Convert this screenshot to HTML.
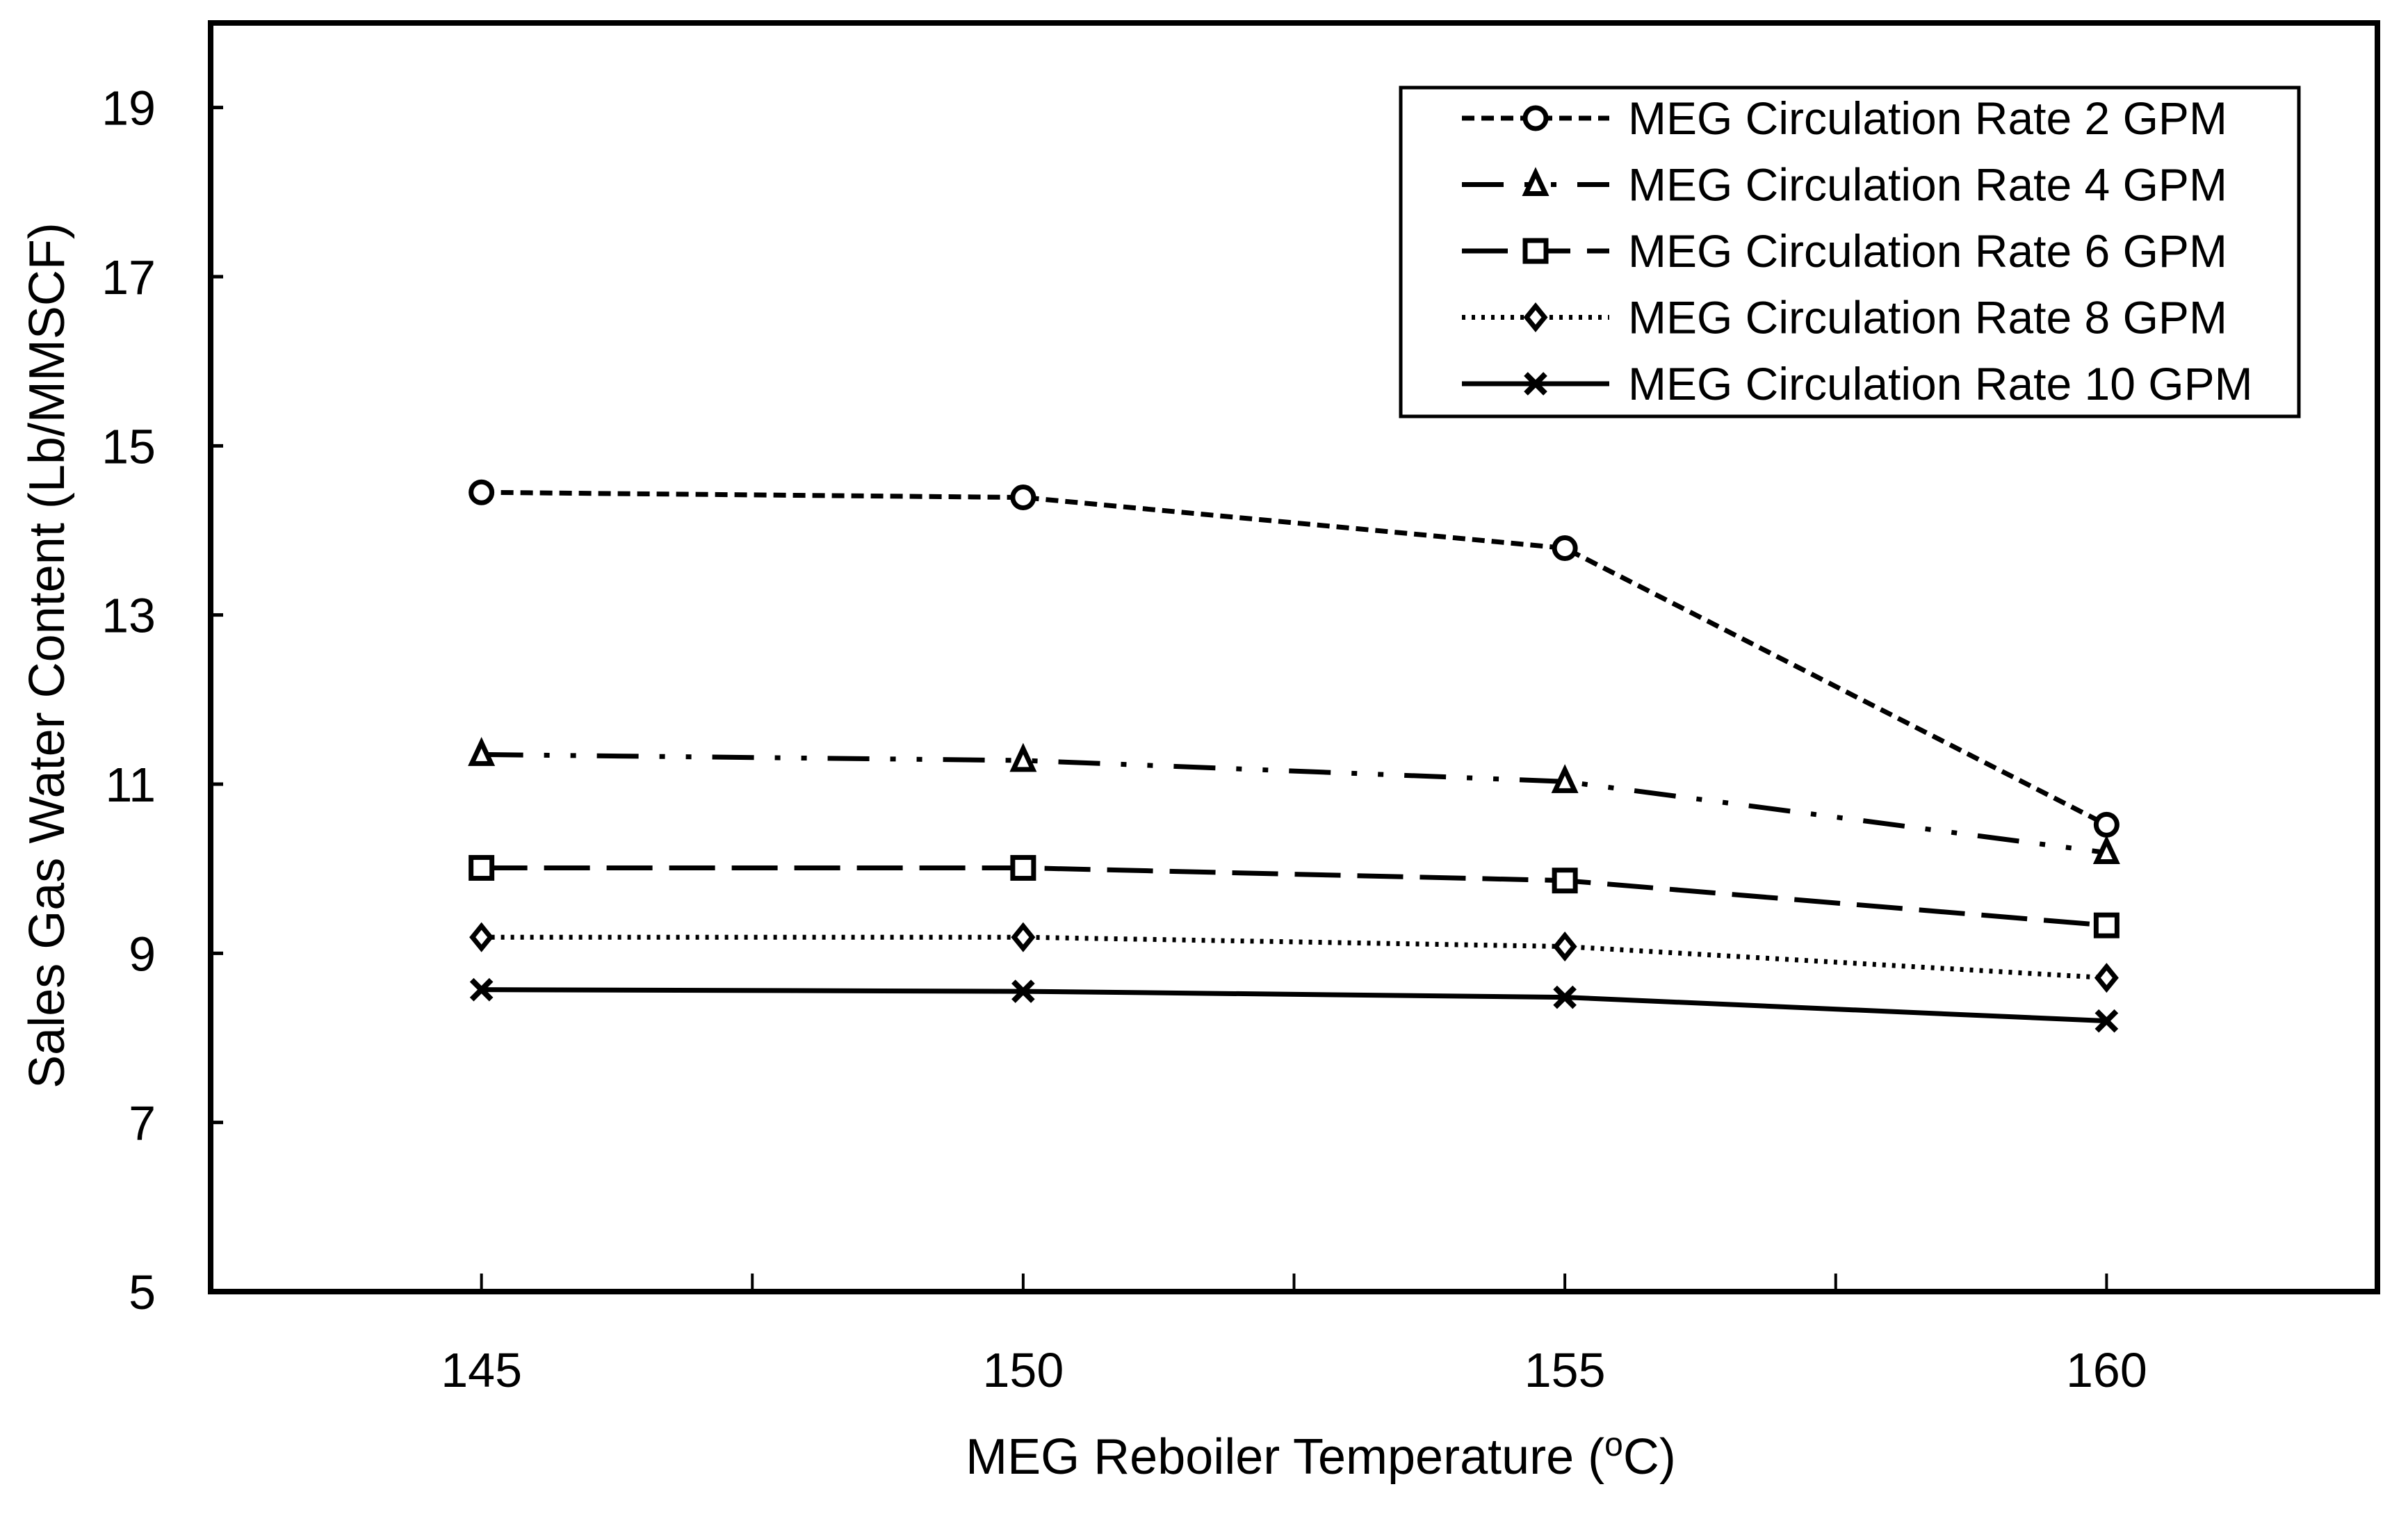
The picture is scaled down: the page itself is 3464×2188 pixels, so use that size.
<!DOCTYPE html>
<html><head><meta charset="utf-8"><style>
html,body{margin:0;padding:0;background:#fff;}
svg{display:block;font-family:"Liberation Sans",sans-serif;}
</style></head><body>
<svg id="chart" width="3464" height="2188" viewBox="0 0 3464 2188" xmlns="http://www.w3.org/2000/svg">
<rect width="3464" height="2188" fill="#fff"/>
<g id="grid"></g>
<g id="series"></g>
<rect x="303" y="33" width="3117" height="1825" fill="none" stroke="#000" stroke-width="8"/>
<text x="1900" y="2120" font-size="72" text-anchor="middle">MEG Reboiler Temperature (<tspan font-size="48" dy="-26">o</tspan><tspan dy="26">C)</tspan></text>
<text transform="translate(92,943) rotate(-90)" font-size="72" text-anchor="middle">Sales Gas Water Content (Lb/MMSCF)</text>
<g id="legend"></g>
</svg>
<script>
const xCategories=[145,150,155,160];
const xTickLabels=["145","150","155","160"];
const yTickValues=[5,7,9,11,13,15,17,19];
const seriesNames=["MEG Circulation Rate 2 GPM","MEG Circulation Rate 4 GPM","MEG Circulation Rate 6 GPM","MEG Circulation Rate 8 GPM","MEG Circulation Rate 10 GPM"];
const rate2=[14.45,14.39,13.79,10.52];
const rate4=[11.35,11.28,11.03,10.19];
const rate6=[10.01,10.01,9.86,9.33];
const rate8=[9.19,9.19,9.08,8.71];
const rate10=[8.57,8.55,8.48,8.20];

const NS="http://www.w3.org/2000/svg";
const L=303,R=3420,T=33,B=1858,xMin=142.5,xMax=162.5,yMin=5,yMax=20;
function xs(v){return L+(v-xMin)/(xMax-xMin)*(R-L);}
function ys(v){return B-(v-yMin)/(yMax-yMin)*(B-T);}
function mk(tag,attrs,parent){const e=document.createElementNS(NS,tag);for(const k in attrs)e.setAttribute(k,attrs[k]);parent.appendChild(e);return e;}
const grid=document.getElementById('grid'),ser=document.getElementById('series'),leg=document.getElementById('legend');

yTickValues.forEach(v=>{
  const t=mk('line',{x1:L,x2:L+18,y1:ys(v),y2:ys(v),stroke:'#000','stroke-width':5},grid);
  
  
  const lb=mk('text',{x:224,y:ys(v)+25,'font-size':70,'text-anchor':'end'},grid);
  lb.textContent=String(v);
  
  
});
for(let v=145;v<=160;v+=2.5){
  const t=mk('line',{x1:xs(v),x2:xs(v),y1:B,y2:B-26,stroke:'#000','stroke-width':4},grid);
  
  
}
xCategories.forEach((c,i)=>{
  const lb=mk('text',{x:xs(c),y:1995,'font-size':70,'text-anchor':'middle'},grid);
  lb.textContent=xTickLabels[i];
  
  
});

const styles=[
 {data:rate2,dash:'18 10',marker:'circle'},
 {data:rate4,dash:'60 30 8 30 8 30',marker:'triangle'},
 {data:rate6,dash:'66 24',marker:'square'},
 {data:rate8,dash:'5 9',marker:'diamond'},
 {data:rate10,dash:'none',marker:'x'}
];
function drawMarker(type,x,y,g){
  const a={fill:'#fff',stroke:'#000','stroke-width':7};
  let e;
  if(type==='circle')e=mk('circle',Object.assign({cx:x,cy:y,r:15},a),g);
  else if(type==='triangle')e=mk('polygon',Object.assign({points:`${x},${y-17} ${x+14},${y+13} ${x-14},${y+13}`},a),g);
  else if(type==='square')e=mk('rect',Object.assign({x:x-15,y:y-15,width:30,height:30},a),g);
  else if(type==='diamond')e=mk('polygon',Object.assign({points:`${x},${y-16} ${x+13},${y} ${x},${y+16} ${x-13},${y}`},a),g);
  else{e=mk('path',{d:`M${x-14},${y-14}L${x+14},${y+14}M${x+14},${y-14}L${x-14},${y+14}`,stroke:'#000','stroke-width':8,fill:'none'},g);}
  
  
}
styles.forEach((s,si)=>{
  const g=mk('g',{},ser);
  
  
  const pts=s.data.map((v,i)=>xs(xCategories[i])+','+ys(v)).join(' ');
  const pl=mk('polyline',{points:pts,fill:'none',stroke:'#000','stroke-width':7,'stroke-dasharray':s.dash},g);
  
  
  s.data.forEach((v,i)=>drawMarker(s.marker,xs(xCategories[i]),ys(v),g));
  const ly=170+si*95.5;
  const lg=mk('g',{},leg);
  
  
  const ll=mk('line',{x1:2103,x2:2315,y1:ly,y2:ly,stroke:'#000','stroke-width':7,'stroke-dasharray':s.dash},lg);
  
  
  drawMarker(s.marker,2209,ly,lg);
  const tx=mk('text',{x:2342,y:ly+23,'font-size':66},lg);
  tx.textContent=seriesNames[si];
  
  
});
const box=mk('rect',{x:2015,y:126,width:1292,height:473,fill:'none',stroke:'#000','stroke-width':5},leg);


</script>
</body></html>
